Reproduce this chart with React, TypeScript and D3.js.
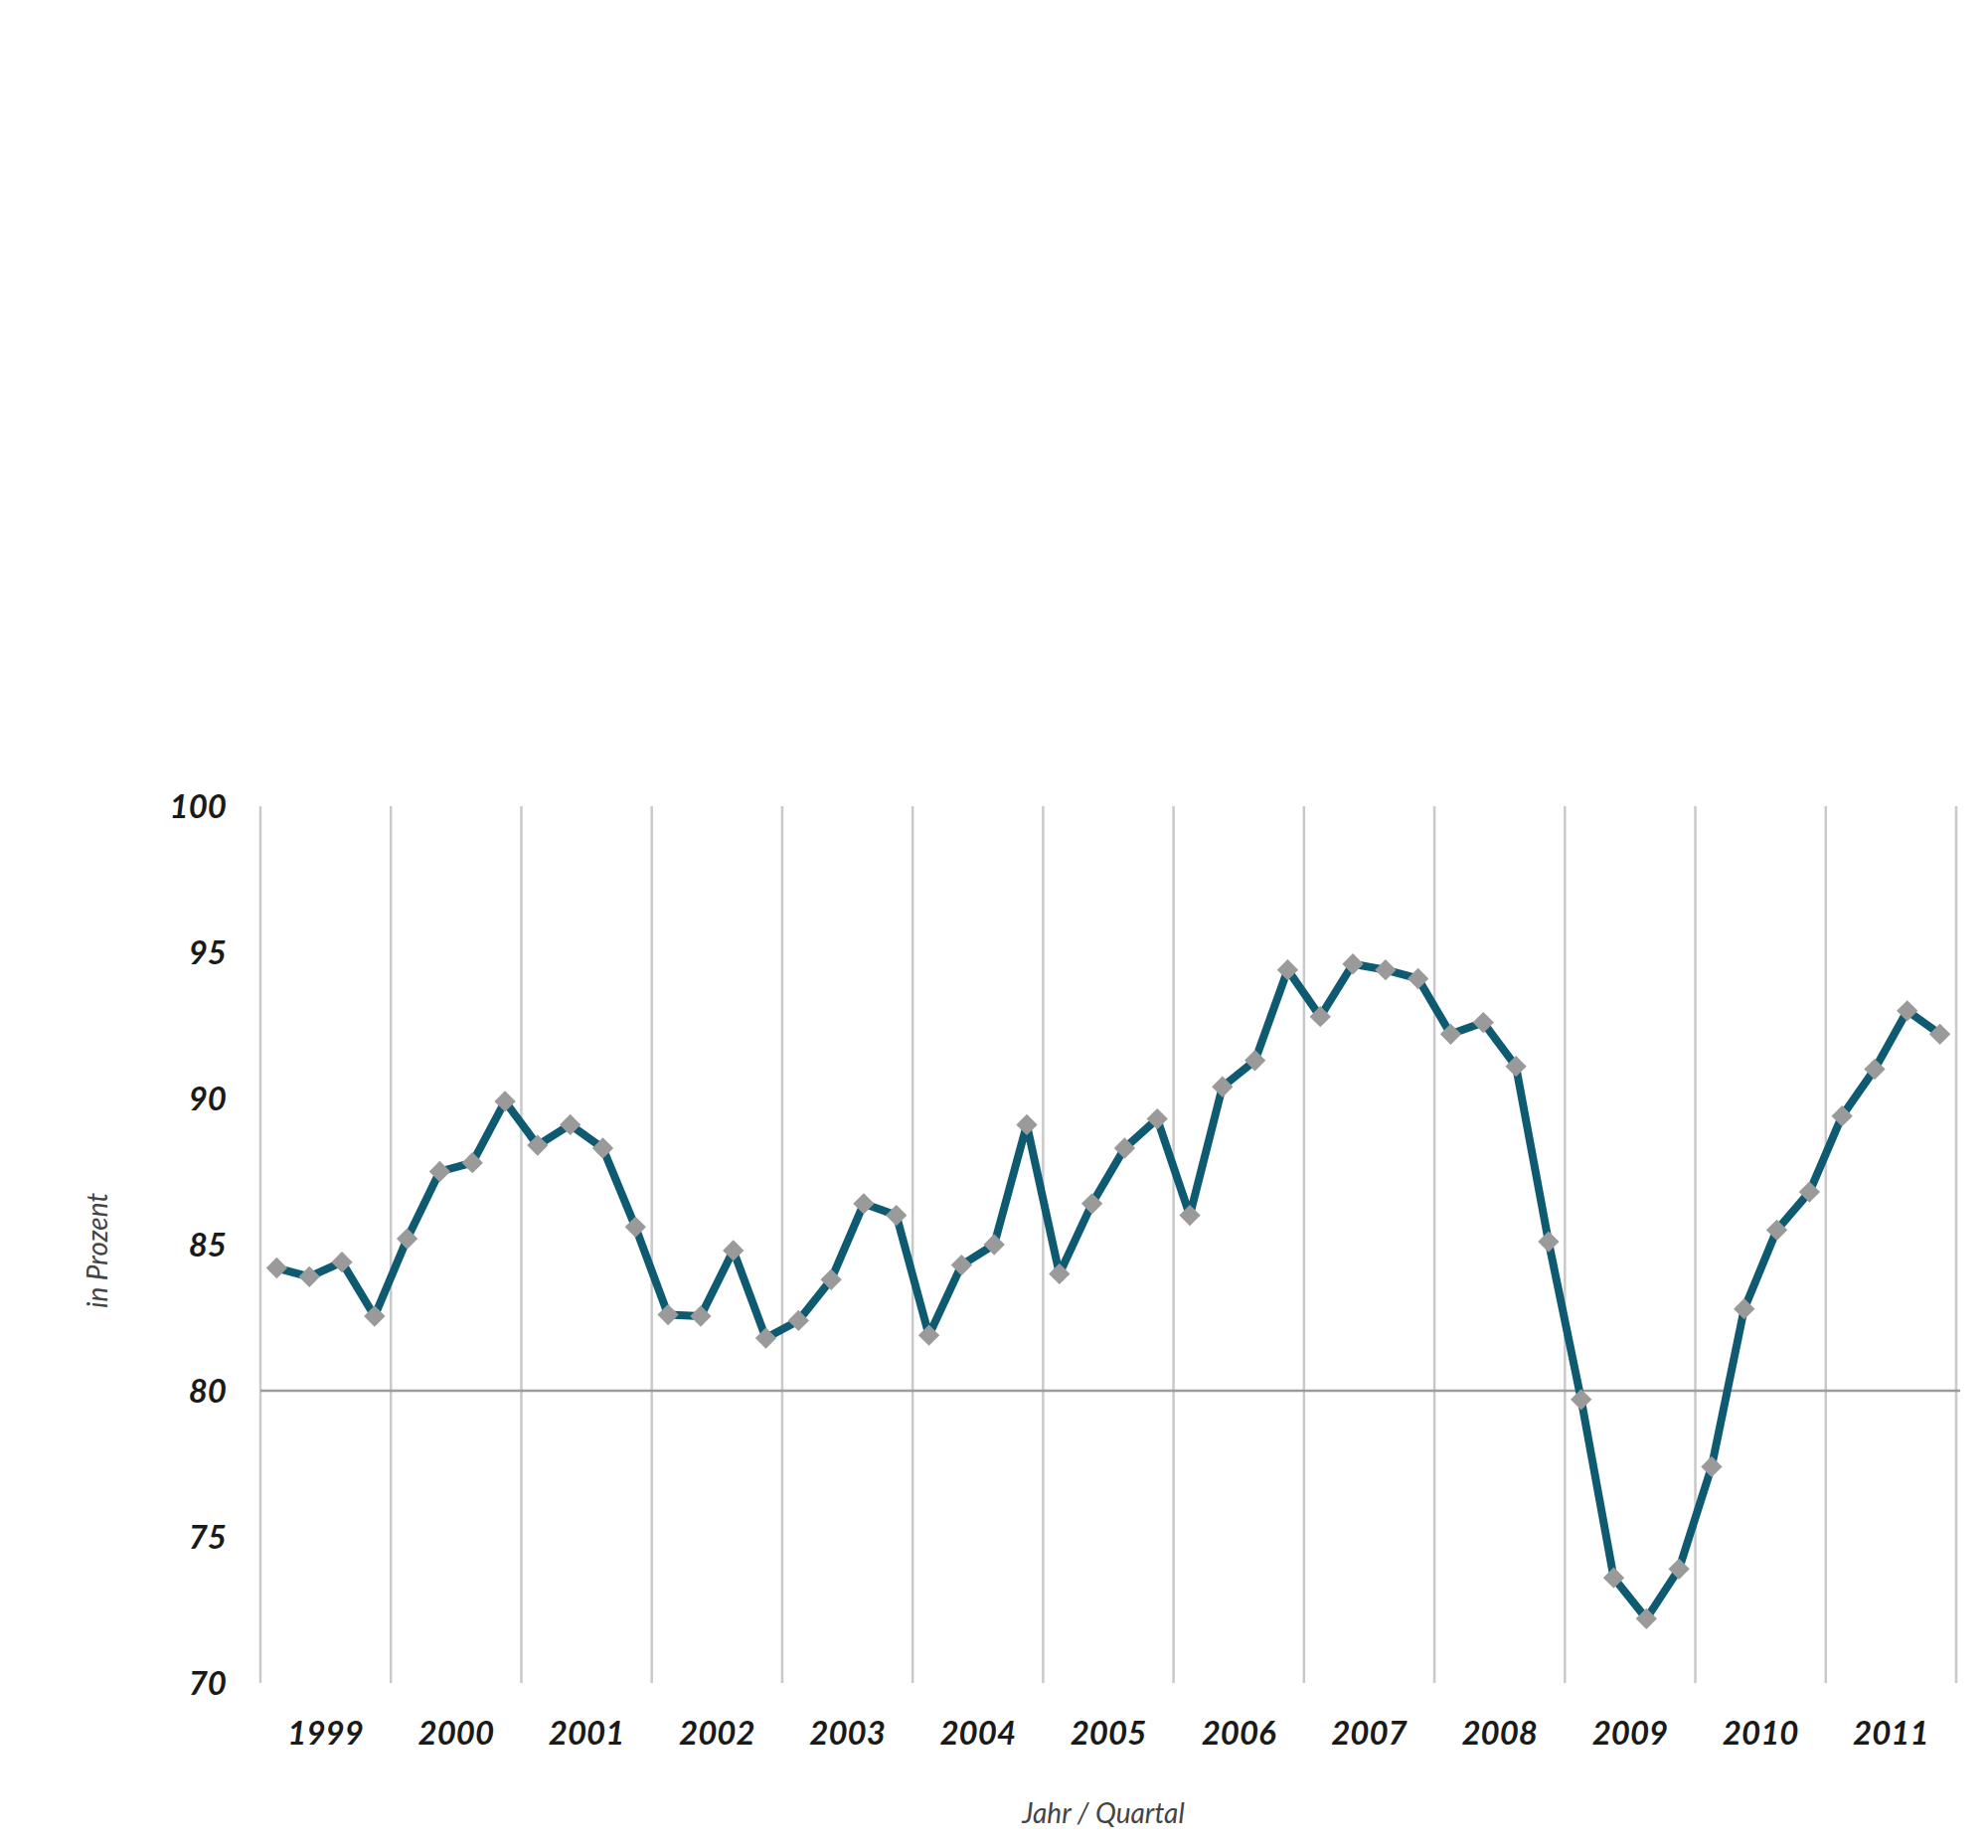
import * as React from "react";
import * as d3 from "d3";

// Quarterly values 1999–2011, in percent
const years = [1999, 2000, 2001, 2002, 2003, 2004, 2005, 2006, 2007, 2008, 2009, 2010, 2011];
const quarters = ["Q1", "Q2", "Q3", "Q4"];
const values = [
  84.2, 83.9, 84.4, 82.55,
  85.2, 87.5, 87.8, 89.9,
  88.4, 89.1, 88.3, 85.6,
  82.6, 82.55, 84.8, 81.8,
  82.4, 83.8, 86.4, 86.0,
  81.9, 84.3, 85.0, 89.1,
  84.0, 86.4, 88.3, 89.3,
  86.0, 90.4, 91.3, 94.4,
  92.8, 94.6, 94.4, 94.1,
  92.2, 92.6, 91.1, 85.1,
  79.7, 73.6, 72.2, 73.9,
  77.4, 82.8, 85.5, 86.8,
  89.4, 91.0, 93.0, 92.2,
];
const yTicks = [70, 75, 80, 85, 90, 95, 100];

const W = 2000;
const H = 1859;
const M = { top: 811, right: 32, bottom: 166, left: 262 };

const LINE = "#0e5a70";
const MARKER = "#9a9a9a";
const GRID = "#c9c9c9";

export default function App() {
  React.useEffect(() => {
    document.body.style.margin = "0";
  }, []);

  const innerW = W - M.left - M.right;
  const innerH = H - M.top - M.bottom;

  const x = d3.scaleLinear().domain([0, years.length]).range([0, innerW]);
  const y = d3.scaleLinear().domain([70, 100]).range([innerH, 0]);

  // each point sits in the middle of its quarter
  const px = (i: number) => x((i + 0.5) / quarters.length);

  const line = d3
    .line<number>()
    .x((_, i) => px(i))
    .y((d) => y(d));

  const diamond = d3.symbol().type(d3.symbolDiamond2).size(290)()!;

  const labelFont = "Lato, 'Open Sans', sans-serif";

  return (
    <svg width={W} height={H} style={{ display: "block", background: "#fff" }}>
      <g transform={`translate(${M.left},${M.top})`}>
        {/* year separators */}
        {d3.range(years.length + 1).map((i) => (
          <line
            key={`v-${i}`}
            x1={x(i)}
            x2={x(i)}
            y1={0}
            y2={innerH}
            stroke={GRID}
            strokeWidth={2.5}
          />
        ))}

        {/* reference line at 80 */}
        <line x1={0} x2={innerW + 4} y1={y(80)} y2={y(80)} stroke="#9b9b9b" strokeWidth={2.5} />

        <path d={line(values) ?? ""} fill="none" stroke={LINE} strokeWidth={8} strokeLinejoin="round" />

        {values.map((v, i) => (
          <path key={`m-${i}`} d={diamond} transform={`translate(${px(i)},${y(v)})`} fill={MARKER} />
        ))}

        {yTicks.map((t) => (
          <text
            key={`yt-${t}`}
            x={-34}
            y={y(t)}
            dy="0.35em"
            textAnchor="end"
            fontFamily={labelFont}
            fontWeight={700}
            fontStyle="italic"
            fontSize={33}
            fill="#1a1a1a"
          >
            {t}
          </text>
        ))}

        {years.map((yr, i) => (
          <text
            key={`xt-${yr}`}
            x={x(i + 0.5)}
            y={innerH + 62}
            textAnchor="middle"
            fontFamily={labelFont}
            fontWeight={700}
            fontStyle="italic"
            fontSize={33}
            fill="#1a1a1a"
          >
            {yr}
          </text>
        ))}

        <text
          x={innerW / 2 - 5}
          y={innerH + 141}
          textAnchor="middle"
          fontFamily={labelFont}
          fontStyle="italic"
          fontSize={28}
          fill="#444"
        >
          Jahr / Quartal
        </text>

        <text
          transform={`translate(${-154},${y(84.8)}) rotate(-90)`}
          textAnchor="middle"
          fontFamily={labelFont}
          fontStyle="italic"
          fontSize={28}
          fill="#444"
        >
          in Prozent
        </text>
      </g>
    </svg>
  );
}
